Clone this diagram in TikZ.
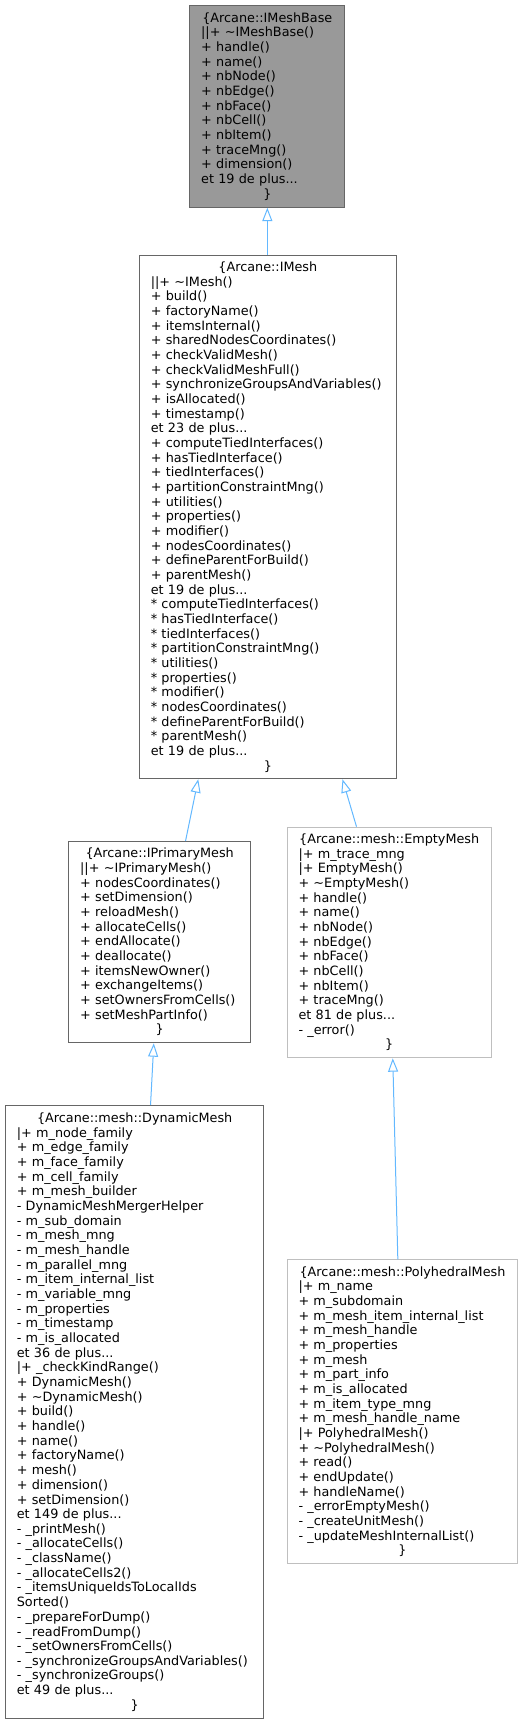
\documentclass[tikz,border=0pt]{standalone}
\usepackage{fontspec}
\setmainfont{DejaVu Sans}
\usetikzlibrary{arrows.meta}
\definecolor{Edge}{HTML}{63B8FF}
\definecolor{Dark}{HTML}{666666}
\definecolor{Pale}{HTML}{BFBFBF}
\definecolor{Grey}{HTML}{999999}

\begin{document}
\begin{tikzpicture}[
    box/.style={draw=Dark,line width=0.75pt,fill=white,anchor=north west,align=left,
      inner xsep=8.5pt,inner ysep=0pt,font=\fontsize{9.6}{11}\selectfont},
    pale/.style={box,draw=Pale},
    arr/.style={-{Triangle[open,length=10pt,width=7.5pt]},Edge,line width=0.75pt}
  ]
    \useasboundingbox (0,0) rectangle (392.25pt,-1292.25pt);
    \node[box,fill=Grey,text width=99.25pt,minimum height=151.3pt] (base) at (142pt,-3.75pt)
      {\makebox[\hsize]{\{Arcane::IMeshBase}\\
      ||+ \textasciitilde IMeshBase()\\
      + handle()\\
      + name()\\
      + nbNode()\\
      + nbEdge()\\
      + nbFace()\\
      + nbCell()\\
      + nbItem()\\
      + traceMng()\\
      + dimension()\\
      et 19 de plus...\\
      \makebox[\hsize]{\}}};
    \node[box,text width=175.5pt,minimum height=392.8pt] (imesh) at (104.25pt,-190.9pt)
      {\makebox[\hsize]{\{Arcane::IMesh}\\
      ||+ \textasciitilde IMesh()\\
      + build()\\
      + factoryName()\\
      + itemsInternal()\\
      + sharedNodesCoordinates()\\
      + checkValidMesh()\\
      + checkValidMeshFull()\\
      + synchronizeGroupsAndVariables()\\
      + isAllocated()\\
      + timestamp()\\
      et 23 de plus...\\
      + computeTiedInterfaces()\\
      + hasTiedInterface()\\
      + tiedInterfaces()\\
      + partitionConstraintMng()\\
      + utilities()\\
      + properties()\\
      + modifier()\\
      + nodesCoordinates()\\
      + defineParentForBuild()\\
      + parentMesh()\\
      et 19 de plus...\\
      {*} computeTiedInterfaces()\\
      {*} hasTiedInterface()\\
      {*} tiedInterfaces()\\
      {*} partitionConstraintMng()\\
      {*} utilities()\\
      {*} properties()\\
      {*} modifier()\\
      {*} nodesCoordinates()\\
      {*} defineParentForBuild()\\
      {*} parentMesh()\\
      et 19 de plus...\\
      \makebox[\hsize]{\}}};
    \node[box,text width=119.25pt,minimum height=151pt] (primary) at (51.25pt,-630.75pt)
      {\makebox[\hsize]{\{Arcane::IPrimaryMesh}\\
      ||+ \textasciitilde IPrimaryMesh()\\
      + nodesCoordinates()\\
      + setDimension()\\
      + reloadMesh()\\
      + allocateCells()\\
      + endAllocate()\\
      + deallocate()\\
      + itemsNewOwner()\\
      + exchangeItems()\\
      + setOwnersFromCells()\\
      + setMeshPartInfo()\\
      \makebox[\hsize]{\}}};
    \node[pale,text width=136pt,minimum height=173pt] (empty) at (215pt,-620pt)
      {\makebox[\hsize]{\{Arcane::mesh::EmptyMesh}\\
      |+ m\_trace\_mng\\
      |+ EmptyMesh()\\
      + \textasciitilde EmptyMesh()\\
      + handle()\\
      + name()\\
      + nbNode()\\
      + nbEdge()\\
      + nbFace()\\
      + nbCell()\\
      + nbItem()\\
      + traceMng()\\
      et 81 de plus...\\
      - \_error()\\
      \makebox[\hsize]{\}}};
    \node[box,text width=176.75pt,minimum height=460pt] (dynamic) at (3.75pt,-828.75pt)
      {\makebox[\hsize]{\{Arcane::mesh::DynamicMesh}\\
      |+ m\_node\_family\\
      + m\_edge\_family\\
      + m\_face\_family\\
      + m\_cell\_family\\
      + m\_mesh\_builder\\
      - DynamicMeshMergerHelper\\
      - m\_sub\_domain\\
      - m\_mesh\_mng\\
      - m\_mesh\_handle\\
      - m\_parallel\_mng\\
      - m\_item\_internal\_list\\
      - m\_variable\_mng\\
      - m\_properties\\
      - m\_timestamp\\
      - m\_is\_allocated\\
      et 36 de plus...\\
      |+ \_checkKindRange()\\
      + DynamicMesh()\\
      + \textasciitilde DynamicMesh()\\
      + build()\\
      + handle()\\
      + name()\\
      + factoryName()\\
      + mesh()\\
      + dimension()\\
      + setDimension()\\
      et 149 de plus...\\
      - \_printMesh()\\
      - \_allocateCells()\\
      - \_className()\\
      - \_allocateCells2()\\
      - \_itemsUniqueIdsToLocalIds\\
      Sorted()\\
      - \_prepareForDump()\\
      - \_readFromDump()\\
      - \_setOwnersFromCells()\\
      - \_synchronizeGroupsAndVariables()\\
      - \_synchronizeGroups()\\
      et 49 de plus...\\
      \makebox[\hsize]{\}}};
    \node[pale,text width=156pt,minimum height=227.5pt] (poly) at (215pt,-944.5pt)
      {\makebox[\hsize]{\{Arcane::mesh::PolyhedralMesh}\\
      |+ m\_name\\
      + m\_subdomain\\
      + m\_mesh\_item\_internal\_list\\
      + m\_mesh\_handle\\
      + m\_properties\\
      + m\_mesh\\
      + m\_part\_info\\
      + m\_is\_allocated\\
      + m\_item\_type\_mng\\
      + m\_mesh\_handle\_name\\
      |+ PolyhedralMesh()\\
      + \textasciitilde PolyhedralMesh()\\
      + read()\\
      + endUpdate()\\
      + handleName()\\
      - \_errorEmptyMesh()\\
      - \_createUnitMesh()\\
      - \_updateMeshInternalList()\\
      \makebox[\hsize]{\}}};
    \draw[arr] (imesh.north -| base.south) -- (base.south);
    \draw[arr] ([xshift=19.4pt]primary.north) -- ([xshift=-52.2pt]imesh.south);
    \draw[arr] ([xshift=-24.5pt]empty.north) -- ([xshift=56pt]imesh.south);
    \draw[arr] ([xshift=11.9pt]dynamic.north) -- ([xshift=-4.4pt]primary.south);
    \draw[arr] ([xshift=-3.5pt]poly.north) -- ([xshift=2.7pt]empty.south);
  \end{tikzpicture}
\end{document}
